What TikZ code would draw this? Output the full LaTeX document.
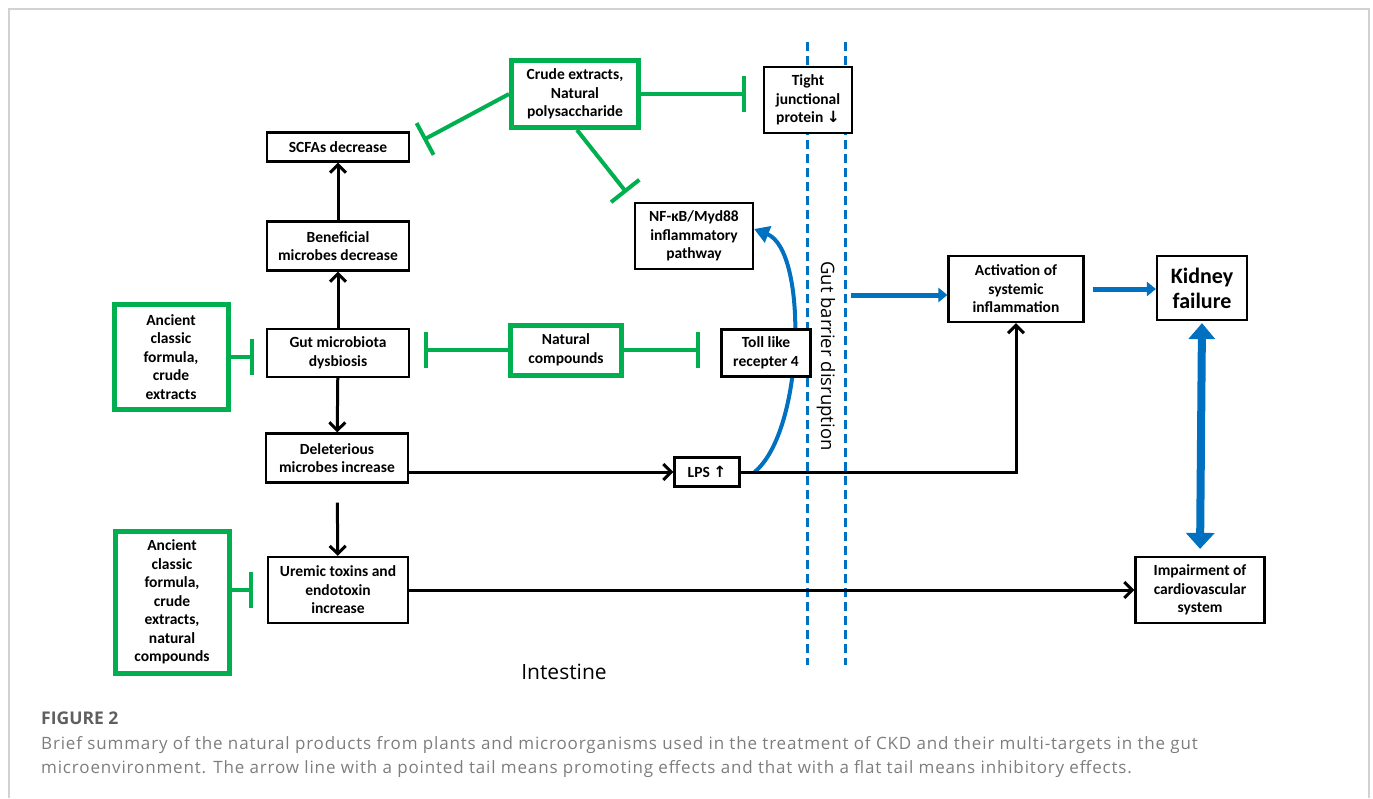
\documentclass[tikz,border=0pt]{standalone}
\usepackage{fontspec}
\setmainfont{Carlito}
\newfontfamily\opensans{Open Sans}
\newfontfamily\capfont[LetterSpace=5]{Open Sans}
\newfontfamily\arrowfont{DejaVu Sans}
\usepackage{xcolor}
\usepackage{tikz}
\usetikzlibrary{arrows.meta,positioning,calc,backgrounds}
\definecolor{inhgreen}{RGB}{0,176,80}
\definecolor{gutblue}{RGB}{0,112,192}
\definecolor{framegray}{RGB}{210,210,210}
\definecolor{capgray}{RGB}{95,95,95}
\definecolor{textgray}{RGB}{125,125,125}

\begin{document}
\begin{tikzpicture}[x=1pt,y=-1pt,
    box/.style={draw, line width=2.2pt, fill=white, align=center, inner sep=1pt,
      font=\bfseries\fontsize{15.5}{18.5}\selectfont},
    gbox/.style={box, draw=inhgreen, line width=5pt},
    promote/.style={line width=3pt, -{Straight Barb[length=8pt,width=16pt,line width=3pt]}},
    inhibit/.style={draw=inhgreen, line width=4pt, -{Bar[width=36pt]}},
    bluearrow/.style={draw=gutblue, line width=5pt, -{Triangle[length=9pt,width=14pt]}},
    barrier/.style={draw=gutblue, line width=3pt, dash pattern=on 9pt off 5pt}]
    \useasboundingbox (0,0) rectangle (1373,798);
    % frame
    \draw[framegray, line width=2pt] (9,798) -- (9,9) -- (1369,9) -- (1369,798);

    % Gut barrier: two dashed lines
    \draw[barrier] (807,42) -- (807,665);
    \draw[barrier] (845,42) -- (845,665);
    \node[rotate=-90, font=\opensans\fontsize{18.5}{20}\selectfont] (gbd) at (826,356) {Gut barrier disruption};
    \coordinate (gbdR) at (851,295);

    % Microbiota column
    \node[box, minimum width=142pt, minimum height=29pt] (scfa) at (338,147) {SCFAs decrease};
    \node[box, minimum width=142pt, minimum height=49pt] (benef) at (338,246) {Beneficial\\microbes decrease};
    \node[box, minimum width=142pt, minimum height=48pt] (gut) at (338,353) {Gut microbiota\\dysbiosis};
    \node[box, minimum width=142pt, minimum height=49pt] (delet) at (337,458) {Deleterious\\microbes increase};
    \node[box, minimum width=140pt, minimum height=66pt] (uremic) at (338,590) {Uremic toxins and\\endotoxin\\increase};

    % Natural products (green)
    \node[gbox, minimum width=114pt, minimum height=105pt] (anc1) at (171,357) {Ancient\\classic\\formula,\\crude\\extracts};
    \node[gbox, minimum width=114pt, minimum height=142pt] (anc2) at (172,602) {Ancient\\classic\\formula,\\crude\\extracts,\\natural\\compounds};
    \node[gbox, minimum width=127pt, minimum height=67pt] (crude) at (575,94) {Crude extracts,\\Natural\\polysaccharide};
    \node[gbox, minimum width=111pt, minimum height=50pt] (natc) at (566,350) {Natural\\compounds};

    % Targets
    \node[box, minimum width=88pt, minimum height=66pt] (tight) at (808,100) {Tight\\junctional\\protein {\arrowfont ↓}};
    \node[box, minimum width=118pt, minimum height=66pt] (nfkb) at (694,236) {NF-κB/Myd88\\inflammatory\\pathway};
    \node[box, minimum width=89pt, minimum height=47pt] (toll) at (766,353) {Toll like\\recepter 4};
    \node[box, minimum width=65pt, minimum height=29pt] (lps) at (707,472) {LPS {\arrowfont ↑}};
    \node[box, minimum width=135pt, minimum height=66pt] (activ) at (1016,289) {Activation of\\systemic\\inflammation};
    \node[box, minimum width=90pt, minimum height=64pt, font=\bfseries\fontsize{22}{25}\selectfont] (kidney) at (1202,288) {Kidney\\failure};
    \node[box, minimum width=129pt, minimum height=66pt] (impair) at (1200,590) {Impairment of\\cardiovascular\\system};

    % Promoting arrows
    \draw[promote] (gut) -- (benef);
    \draw[promote] (benef) -- (scfa);
    \draw[promote] (gut) -- (delet);
    \draw[promote, shorten <=19pt] (delet) -- (uremic);
    \draw[promote] (delet.east |- lps.west) -- (lps.west);
    \draw[promote] (uremic.east) -- (impair.west);
    \draw[promote] (lps.east) -| (activ.south);

    % Inhibiting lines
    \draw[inhibit, shorten >=15pt] (crude.west) -- (scfa.east);
    \draw[inhibit, shorten >=12pt] ([xshift=2pt]crude.south) -- (nfkb.north west);
    \draw[inhibit, shorten >=17pt] (crude.east) -- (crude.east -| tight.west);
    \draw[inhibit, shorten >=14pt] (natc.west) -- (natc.west -| gut.east);
    \draw[inhibit, shorten >=20pt] (natc.east) -- (natc.east -| toll.west);
    \draw[inhibit, shorten >=12pt] (anc1.east) -- (anc1.east -| gut.west);
    \draw[inhibit, shorten >=14pt] (anc2.east |- uremic.west) -- (uremic.west);

    % Blue arrows (curve runs behind the Toll box)
    \begin{scope}[on background layer]
      \draw[draw=gutblue, line width=4pt, -{Triangle[length=15pt,width=17pt]}]
        ([xshift=14pt]lps.east) .. controls (805,430) and (808,250) .. ([yshift=7pt]nfkb.east);
    \end{scope}
    \draw[bluearrow] (gbdR) -- (gbdR -| activ.west);
    \draw[bluearrow, shorten <=8pt] (activ.east) -- (activ.east -| kidney.west);
    \draw[draw=gutblue, line width=8pt, {Triangle[length=16pt,width=26pt]}-{Triangle[length=16pt,width=28pt]},
      shorten <=2pt, shorten >=7pt] (kidney.south) -- (impair.north);

    % Labels
    \node[font=\opensans\fontsize{21}{24}\selectfont] (intest) at (564,672) {Intestine};
    \node[anchor=base west, inner sep=0pt, text=capgray, font=\opensans\bfseries\fontsize{17.5}{20}\selectfont] (fig) at (41,724) {FIGURE 2};
    \node[anchor=base west, inner sep=0pt, text=textgray, font=\capfont\fontsize{17}{20}\selectfont] (cap1) at (41,749)
      {Brief summary of the natural products from plants and microorganisms used in the treatment of CKD and their multi-targets in the gut};
    \node[anchor=base west, inner sep=0pt, text=textgray, font=\capfont\fontsize{17}{20}\selectfont] (cap2) at (41,773)
      {microenvironment. The arrow line with a pointed tail means promoting effects and that with a flat tail means inhibitory effects.};
\end{tikzpicture}
\end{document}
